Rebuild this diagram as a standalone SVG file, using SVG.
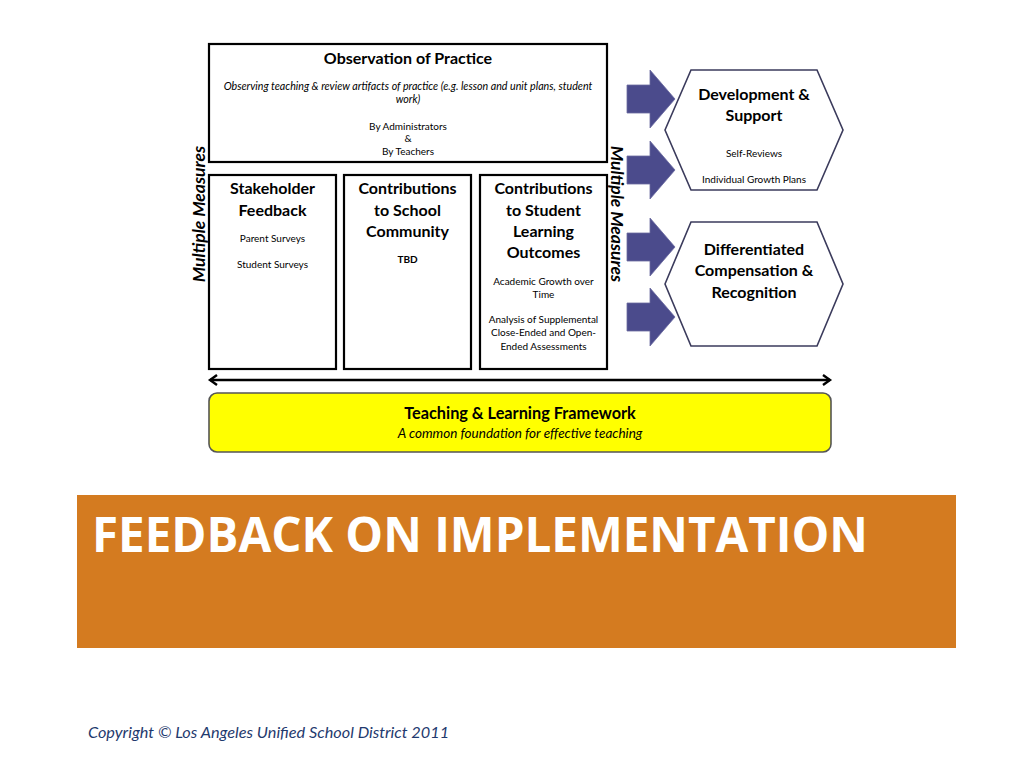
<svg xmlns="http://www.w3.org/2000/svg" width="1024" height="768" viewBox="0 0 1024 768">
<style>
.box{fill:#fff;stroke:#000;stroke-width:2.2}
.hex{fill:#fff;stroke:#3b3b5c;stroke-width:1.6}
.arr{fill:#4b4b8c;stroke:#6a6aa0;stroke-width:0.8}
.h{font-family:Lato,"Open Sans",sans-serif;font-weight:bold;font-size:16px;fill:#000;text-anchor:middle}
.s{font-family:Lato,"Open Sans",sans-serif;font-size:10px;fill:#000;text-anchor:middle}
.i{font-family:Lato,"Open Sans",sans-serif;font-style:italic;font-size:10.7px;fill:#000;text-anchor:middle}
.mm{font-family:Lato,"Open Sans",sans-serif;font-style:italic;font-weight:bold;font-size:17.5px;fill:#000;text-anchor:middle}
</style>
<defs>
<path id="bigarrow" d="M0,-14 H23 V-29 L48,0 L23,29 V14 H0 Z"/>
<marker id="chev" viewBox="0 0 12 12" refX="9" refY="6" markerWidth="12" markerHeight="12" markerUnits="userSpaceOnUse" orient="auto-start-reverse">
<path d="M2,1 L9,6 L2,11" fill="none" stroke="#000" stroke-width="2.4"/>
</marker>
</defs>
<rect width="1024" height="768" fill="#fff"/>

<g id="observation">
<rect class="box" x="209" y="44" width="398" height="118"/>
<text class="h" x="408" y="64">Observation of Practice</text>
<text class="i" x="408" y="90">Observing teaching &amp; review artifacts of practice (e.g. lesson and unit  plans, student</text>
<text class="i" x="408" y="103">work)</text>
<text class="s" x="408" y="130">By Administrators</text>
<text class="s" x="408" y="142">&amp;</text>
<text class="s" x="408" y="155">By Teachers</text>
</g>

<g id="stakeholder">
<rect class="box" x="209" y="175" width="127" height="194"/>
<text class="h" x="272.5" y="194">Stakeholder</text>
<text class="h" x="272.5" y="216">Feedback</text>
<text class="s" x="272.5" y="242">Parent Surveys</text>
<text class="s" x="272.5" y="268">Student Surveys</text>
</g>

<g id="school">
<rect class="box" x="344" y="175" width="127" height="194"/>
<text class="h" x="407.5" y="194">Contributions</text>
<text class="h" x="407.5" y="216">to School</text>
<text class="h" x="407.5" y="237">Community</text>
<text class="s" x="407.5" y="263" style="font-weight:bold">TBD</text>
</g>

<g id="student">
<rect class="box" x="480" y="175" width="127" height="194"/>
<text class="h" x="543.5" y="194">Contributions</text>
<text class="h" x="543.5" y="216">to Student</text>
<text class="h" x="543.5" y="237">Learning</text>
<text class="h" x="543.5" y="258">Outcomes</text>
<text class="s" x="543.5" y="285">Academic Growth over</text>
<text class="s" x="543.5" y="298">Time</text>
<text class="s" x="543.5" y="323">Analysis of Supplemental</text>
<text class="s" x="543.5" y="336">Close-Ended and Open-</text>
<text class="s" x="543.5" y="350">Ended Assessments</text>
</g>

<g id="mm-left">
<text class="mm" transform="translate(205,214) rotate(-90)">Multiple Measures</text>
</g>
<g id="mm-right">
<text class="mm" transform="translate(611,214) rotate(90)">Multiple Measures</text>
</g>

<g id="development">
<polygon class="hex" points="665,130 691,70 817,70 843,130 817,190 691,190"/>
<text class="h" x="754" y="100">Development &amp;</text>
<text class="h" x="754" y="121">Support</text>
<text class="s" x="754" y="157">Self-Reviews</text>
<text class="s" x="754" y="183">Individual Growth Plans</text>
</g>

<g id="compensation">
<polygon class="hex" points="665,284 691,222 817,222 843,284 817,346 691,346"/>
<text class="h" x="754" y="255">Differentiated</text>
<text class="h" x="754" y="276">Compensation &amp;</text>
<text class="h" x="754" y="298">Recognition</text>
</g>

<g id="framework">
<rect x="209" y="393" width="622" height="59" rx="8" fill="#ffff00" stroke="#555" stroke-width="1.6"/>
<text class="h" x="520" y="419" style="font-size:16.3px">Teaching &amp; Learning Framework</text>
<text class="i" x="520" y="438" style="font-size:13.5px">A common foundation for effective teaching</text>
</g>

<g id="connectors">
<use href="#bigarrow" class="arr" x="627" y="99"/>
<use href="#bigarrow" class="arr" x="627" y="170"/>
<use href="#bigarrow" class="arr" x="627" y="247"/>
<use href="#bigarrow" class="arr" x="627" y="317"/>
<line x1="210" y1="380" x2="830" y2="380" stroke="#000" stroke-width="2.4" marker-start="url(#chev)" marker-end="url(#chev)"/>
</g>

<g id="banner">
<rect x="77" y="495" width="879" height="153" fill="#d47b20"/>
<text x="92" y="552" font-family="'Open Sans',Lato,sans-serif" font-weight="bold" font-size="48" fill="#fff" textLength="776" lengthAdjust="spacingAndGlyphs">FEEDBACK ON IMPLEMENTATION</text>
</g>

<text x="88" y="738" font-family="Lato,'Open Sans',sans-serif" font-style="italic" font-size="16.3" fill="#1f3a6e">Copyright © Los Angeles Unified School District 2011</text>
</svg>
